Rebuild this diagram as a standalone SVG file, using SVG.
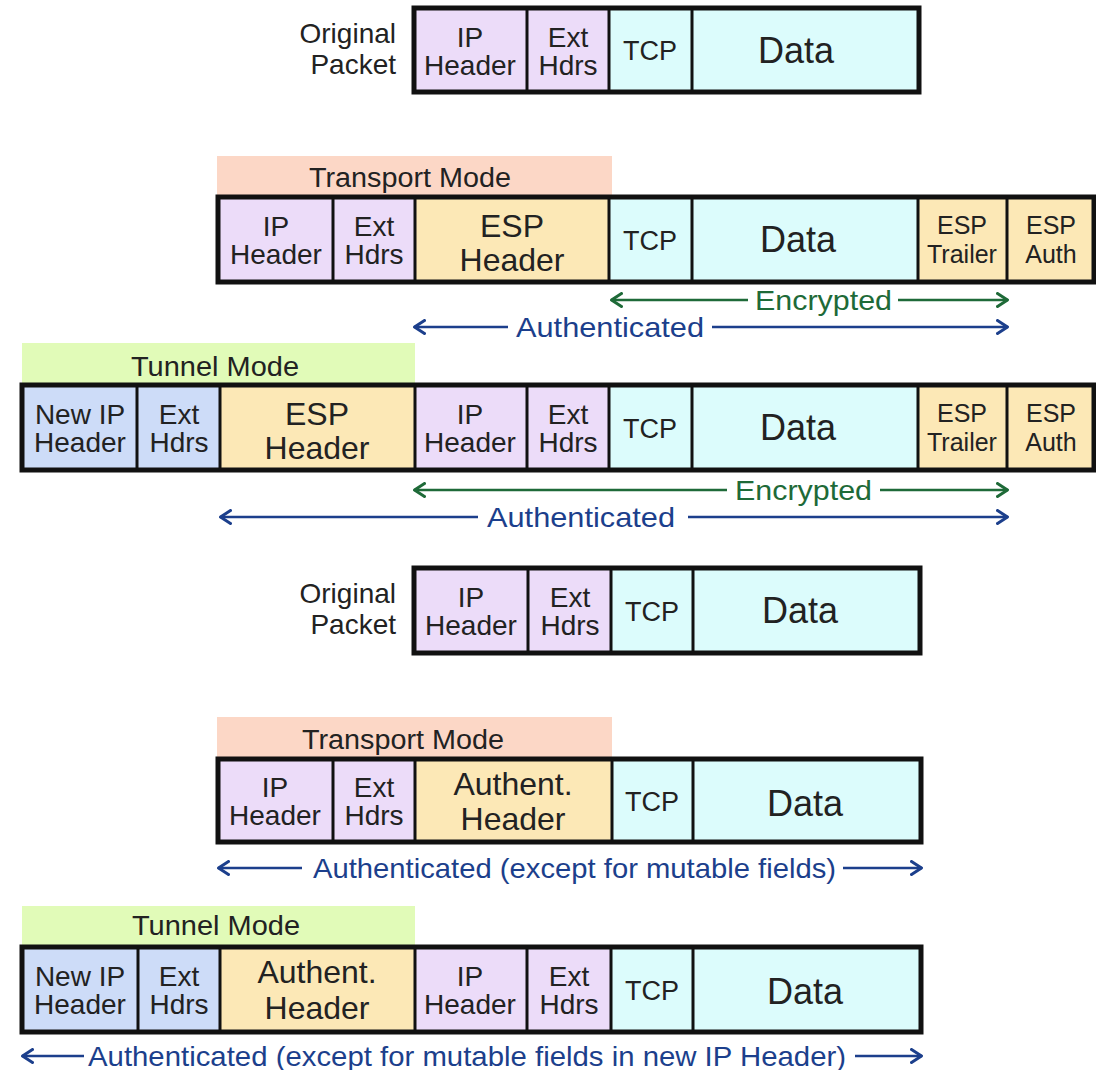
<svg xmlns="http://www.w3.org/2000/svg" width="1096" height="1070" viewBox="0 0 1096 1070">
  <style>
    text { font-family: "Liberation Sans", Arial, sans-serif; fill: #222; }
    .lbl { font-size: 28px; text-anchor: end; }
    .c { font-size: 28px; text-anchor: middle; }
    .big { font-size: 32px; text-anchor: middle; }
    .data { font-size: 36px; text-anchor: middle; }
    .tcp { font-size: 27px; text-anchor: middle; }
    .sm { font-size: 25px; text-anchor: middle; }
    .band { font-size: 27px; text-anchor: middle; }
    .ip { fill: #ecdcf9; }
    .tp { fill: #dcfcfc; }
    .esp { fill: #fce8b6; }
    .nip { fill: #cddcf8; }
    .frame { fill: none; stroke: #111; stroke-width: 5; }
    .div { stroke: #111; stroke-width: 3; }
    .enc { stroke: #1e6a38; stroke-width: 2.5; fill: none; }
    .auth { stroke: #1c3f8c; stroke-width: 2.5; fill: none; }
    .tenc { fill: #1e6a38; font-size: 28px; }
    .tauth { fill: #1c3f8c; font-size: 28px; }
  </style>
  <defs>
    <marker id="hg" viewBox="0 0 13 16" refX="12" refY="8" markerWidth="13" markerHeight="16" markerUnits="userSpaceOnUse" orient="auto-start-reverse">
      <path d="M1.5,1.5 L11.5,8 L1.5,14.5" fill="none" stroke="#1e6a38" stroke-width="3" stroke-linecap="round" stroke-linejoin="round"/>
    </marker>
    <marker id="hb" viewBox="0 0 13 16" refX="12" refY="8" markerWidth="13" markerHeight="16" markerUnits="userSpaceOnUse" orient="auto-start-reverse">
      <path d="M1.5,1.5 L11.5,8 L1.5,14.5" fill="none" stroke="#1c3f8c" stroke-width="3" stroke-linecap="round" stroke-linejoin="round"/>
    </marker>
  </defs>

  <rect width="1096" height="1070" fill="#ffffff"/>

  <!-- Original packet (ESP section) -->
  <g id="orig-esp">
    <text class="lbl" x="396" y="43">Original</text>
    <text class="lbl" x="396" y="74">Packet</text>
    <rect class="ip" x="414" y="8" width="195" height="84"/>
    <rect class="tp" x="609" y="8" width="310" height="84"/>
    <line class="div" x1="527" y1="8" x2="527" y2="92"/>
    <line class="div" x1="609" y1="8" x2="609" y2="92"/>
    <line class="div" x1="692" y1="8" x2="692" y2="92"/>
    <rect class="frame" x="414" y="8" width="505" height="84"/>
    <text class="c" x="470" y="47">IP</text>
    <text class="c" x="470" y="75">Header</text>
    <text class="c" x="568" y="47">Ext</text>
    <text class="c" x="568" y="75">Hdrs</text>
    <text class="tcp" x="650" y="60">TCP</text>
    <text class="data" x="796" y="63">Data</text>
  </g>

  <!-- ESP transport mode -->
  <g id="esp-transport">
    <rect x="217" y="156" width="395" height="41" fill="#fcd7c6"/>
    <text class="band" x="410" y="187" textLength="202" lengthAdjust="spacingAndGlyphs">Transport Mode</text>
    <rect class="ip" x="218" y="197" width="197" height="85"/>
    <rect class="esp" x="415" y="197" width="194" height="85"/>
    <rect class="tp" x="609" y="197" width="309" height="85"/>
    <rect class="esp" x="918" y="197" width="176" height="85"/>
    <line class="div" x1="333" y1="197" x2="333" y2="282"/>
    <line class="div" x1="415" y1="197" x2="415" y2="282"/>
    <line class="div" x1="609" y1="197" x2="609" y2="282"/>
    <line class="div" x1="692" y1="197" x2="692" y2="282"/>
    <line class="div" x1="918" y1="197" x2="918" y2="282"/>
    <line class="div" x1="1007" y1="197" x2="1007" y2="282"/>
    <rect class="frame" x="218" y="197" width="876" height="85"/>
    <text class="c" x="276" y="236">IP</text>
    <text class="c" x="276" y="264">Header</text>
    <text class="c" x="374" y="236">Ext</text>
    <text class="c" x="374" y="264">Hdrs</text>
    <text class="big" x="512" y="237">ESP</text>
    <text class="big" x="512" y="271">Header</text>
    <text class="tcp" x="650" y="250">TCP</text>
    <text class="data" x="798" y="252">Data</text>
    <text class="sm" x="962" y="234">ESP</text>
    <text class="sm" x="962" y="263">Trailer</text>
    <text class="sm" x="1051" y="234">ESP</text>
    <text class="sm" x="1051" y="263">Auth</text>
  </g>

  <!-- ESP tunnel mode -->
  <g id="esp-tunnel">
    <rect x="22" y="343" width="393" height="42" fill="#e1fbb8"/>
    <text class="band" x="215" y="376" textLength="168" lengthAdjust="spacingAndGlyphs">Tunnel Mode</text>
    <rect class="nip" x="22" y="385" width="198" height="85"/>
    <rect class="esp" x="220" y="385" width="195" height="85"/>
    <rect class="ip" x="415" y="385" width="194" height="85"/>
    <rect class="tp" x="609" y="385" width="309" height="85"/>
    <rect class="esp" x="918" y="385" width="176" height="85"/>
    <line class="div" x1="137" y1="385" x2="137" y2="470"/>
    <line class="div" x1="220" y1="385" x2="220" y2="470"/>
    <line class="div" x1="415" y1="385" x2="415" y2="470"/>
    <line class="div" x1="527" y1="385" x2="527" y2="470"/>
    <line class="div" x1="609" y1="385" x2="609" y2="470"/>
    <line class="div" x1="692" y1="385" x2="692" y2="470"/>
    <line class="div" x1="918" y1="385" x2="918" y2="470"/>
    <line class="div" x1="1007" y1="385" x2="1007" y2="470"/>
    <rect class="frame" x="22" y="385" width="1072" height="85"/>
    <text class="c" x="80" y="424">New IP</text>
    <text class="c" x="80" y="452">Header</text>
    <text class="c" x="179" y="424">Ext</text>
    <text class="c" x="179" y="452">Hdrs</text>
    <text class="big" x="317" y="425">ESP</text>
    <text class="big" x="317" y="459">Header</text>
    <text class="c" x="470" y="424">IP</text>
    <text class="c" x="470" y="452">Header</text>
    <text class="c" x="568" y="424">Ext</text>
    <text class="c" x="568" y="452">Hdrs</text>
    <text class="tcp" x="650" y="438">TCP</text>
    <text class="data" x="798" y="440">Data</text>
    <text class="sm" x="962" y="422">ESP</text>
    <text class="sm" x="962" y="451">Trailer</text>
    <text class="sm" x="1051" y="422">ESP</text>
    <text class="sm" x="1051" y="451">Auth</text>
  </g>

  <!-- Original packet (AH section) -->
  <g id="orig-ah">
    <text class="lbl" x="396" y="603">Original</text>
    <text class="lbl" x="396" y="634">Packet</text>
    <rect class="ip" x="414" y="568" width="197" height="85"/>
    <rect class="tp" x="611" y="568" width="309" height="85"/>
    <line class="div" x1="528" y1="568" x2="528" y2="653"/>
    <line class="div" x1="611" y1="568" x2="611" y2="653"/>
    <line class="div" x1="693" y1="568" x2="693" y2="653"/>
    <rect class="frame" x="414" y="568" width="506" height="85"/>
    <text class="c" x="471" y="607">IP</text>
    <text class="c" x="471" y="635">Header</text>
    <text class="c" x="570" y="607">Ext</text>
    <text class="c" x="570" y="635">Hdrs</text>
    <text class="tcp" x="652" y="621">TCP</text>
    <text class="data" x="800" y="623">Data</text>
  </g>

  <!-- AH transport mode -->
  <g id="ah-transport">
    <rect x="217" y="717" width="395" height="42" fill="#fcd7c6"/>
    <text class="band" x="403" y="749" textLength="202" lengthAdjust="spacingAndGlyphs">Transport Mode</text>
    <rect class="ip" x="218" y="759" width="197" height="83"/>
    <rect class="esp" x="415" y="759" width="197" height="83"/>
    <rect class="tp" x="612" y="759" width="309" height="83"/>
    <line class="div" x1="333" y1="759" x2="333" y2="842"/>
    <line class="div" x1="415" y1="759" x2="415" y2="842"/>
    <line class="div" x1="612" y1="759" x2="612" y2="842"/>
    <line class="div" x1="693" y1="759" x2="693" y2="842"/>
    <rect class="frame" x="218" y="759" width="703" height="83"/>
    <text class="c" x="275" y="797">IP</text>
    <text class="c" x="275" y="825">Header</text>
    <text class="c" x="374" y="797">Ext</text>
    <text class="c" x="374" y="825">Hdrs</text>
    <text class="big" x="513" y="795">Authent.</text>
    <text class="big" x="513" y="830">Header</text>
    <text class="tcp" x="652" y="811">TCP</text>
    <text class="data" x="805" y="816">Data</text>
  </g>

  <!-- AH tunnel mode -->
  <g id="ah-tunnel">
    <rect x="22" y="906" width="393" height="41" fill="#e1fbb8"/>
    <text class="band" x="216" y="935" textLength="168" lengthAdjust="spacingAndGlyphs">Tunnel Mode</text>
    <rect class="nip" x="22" y="947" width="198" height="85"/>
    <rect class="esp" x="220" y="947" width="195" height="85"/>
    <rect class="ip" x="415" y="947" width="196" height="85"/>
    <rect class="tp" x="611" y="947" width="310" height="85"/>
    <line class="div" x1="138" y1="947" x2="138" y2="1032"/>
    <line class="div" x1="220" y1="947" x2="220" y2="1032"/>
    <line class="div" x1="415" y1="947" x2="415" y2="1032"/>
    <line class="div" x1="527" y1="947" x2="527" y2="1032"/>
    <line class="div" x1="611" y1="947" x2="611" y2="1032"/>
    <line class="div" x1="693" y1="947" x2="693" y2="1032"/>
    <rect class="frame" x="22" y="947" width="899" height="85"/>
    <text class="c" x="80" y="986">New IP</text>
    <text class="c" x="80" y="1014">Header</text>
    <text class="c" x="179" y="986">Ext</text>
    <text class="c" x="179" y="1014">Hdrs</text>
    <text class="big" x="317" y="983">Authent.</text>
    <text class="big" x="317" y="1019">Header</text>
    <text class="c" x="470" y="986">IP</text>
    <text class="c" x="470" y="1014">Header</text>
    <text class="c" x="569" y="986">Ext</text>
    <text class="c" x="569" y="1014">Hdrs</text>
    <text class="tcp" x="652" y="1000">TCP</text>
    <text class="data" x="805" y="1004">Data</text>
  </g>

  <!-- coverage arrows -->
  <g id="connectors">
    <line class="enc" x1="611" y1="300" x2="748" y2="300" marker-start="url(#hg)"/>
    <line class="enc" x1="898" y1="300" x2="1008" y2="300" marker-end="url(#hg)"/>
    <text class="tenc" x="755" y="310" textLength="137" lengthAdjust="spacingAndGlyphs">Encrypted</text>

    <line class="auth" x1="414" y1="327" x2="508" y2="327" marker-start="url(#hb)"/>
    <line class="auth" x1="712" y1="327" x2="1008" y2="327" marker-end="url(#hb)"/>
    <text class="tauth" x="516" y="337" textLength="188" lengthAdjust="spacingAndGlyphs">Authenticated</text>

    <line class="enc" x1="414" y1="490" x2="727" y2="490" marker-start="url(#hg)"/>
    <line class="enc" x1="880" y1="490" x2="1008" y2="490" marker-end="url(#hg)"/>
    <text class="tenc" x="735" y="500" textLength="137" lengthAdjust="spacingAndGlyphs">Encrypted</text>

    <line class="auth" x1="220" y1="517" x2="478" y2="517" marker-start="url(#hb)"/>
    <line class="auth" x1="688" y1="517" x2="1008" y2="517" marker-end="url(#hb)"/>
    <text class="tauth" x="487" y="527" textLength="188" lengthAdjust="spacingAndGlyphs">Authenticated</text>

    <line class="auth" x1="218" y1="868" x2="302" y2="868" marker-start="url(#hb)"/>
    <line class="auth" x1="843" y1="868" x2="922" y2="868" marker-end="url(#hb)"/>
    <text class="tauth" x="313" y="878" textLength="523" lengthAdjust="spacingAndGlyphs">Authenticated (except for mutable fields)</text>

    <line class="auth" x1="22" y1="1056" x2="84" y2="1056" marker-start="url(#hb)"/>
    <line class="auth" x1="855" y1="1056" x2="922" y2="1056" marker-end="url(#hb)"/>
    <text class="tauth" x="88" y="1066" textLength="758" lengthAdjust="spacingAndGlyphs">Authenticated (except for mutable fields in new IP Header)</text>
  </g>
</svg>
